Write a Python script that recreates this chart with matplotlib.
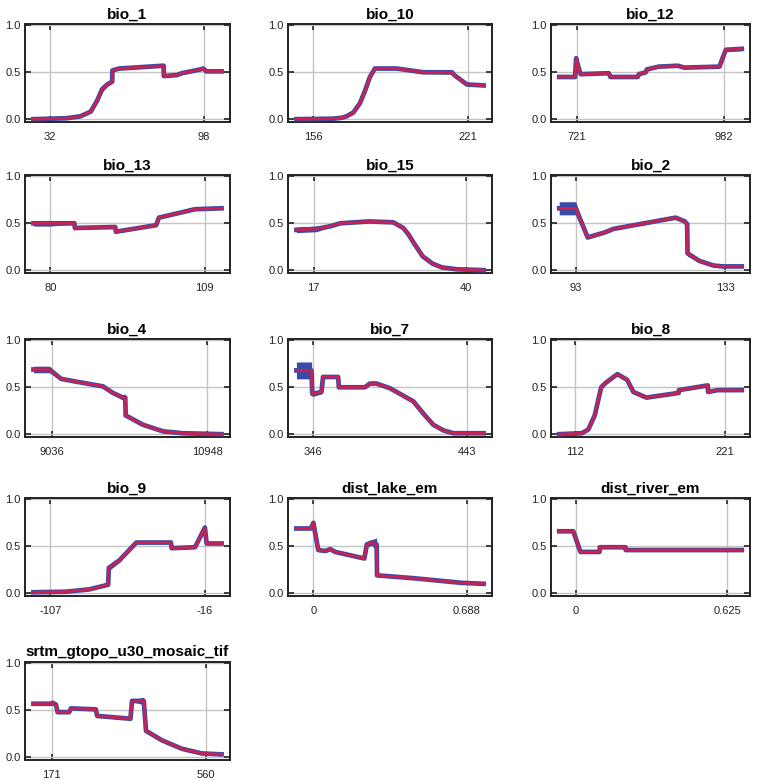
import numpy as np
import matplotlib
matplotlib.use("Agg")
import matplotlib.pyplot as plt

plt.rcParams['font.family'] = ['Liberation Sans', 'DejaVu Sans']

# response curves: x, mean response, +/- sd
bio_1_x = [25, 39, 45, 49.5, 52.3, 54.4, 56.6, 58.7, 58.8, 61.7, 80.7, 80.8, 86.4, 88.5, 96.3, 97.7, 99, 105.5]
bio_1_y = [0.0, 0.01, 0.03, 0.08, 0.2, 0.32, 0.37, 0.40, 0.52, 0.54, 0.57, 0.46, 0.47, 0.49, 0.53, 0.54, 0.51, 0.51]
bio_1_sd = [0.005, 0.005, 0.01, 0.01, 0.02, 0.03, 0.02, 0.01, 0.01, 0.01, 0.01, 0.01, 0.01, 0.01, 0.01, 0.02, 0.01, 0.01]

bio_10_x = [149, 164.4, 168, 170, 172.9, 175.7, 177.8, 179.9, 182, 191.2, 202.4, 214.4, 215.4, 220.7, 227.7]
bio_10_y = [0.0, 0.005, 0.015, 0.03, 0.07, 0.17, 0.30, 0.45, 0.54, 0.54, 0.50, 0.50, 0.47, 0.37, 0.36]
bio_10_sd = [0.005, 0.005, 0.005, 0.01, 0.01, 0.01, 0.01, 0.01, 0.01, 0.01, 0.01, 0.02, 0.02, 0.01, 0.01]

bio_12_x = [690, 718, 720, 721, 726.7, 728, 777.7, 780.6, 828.8, 831, 843, 845, 865.7, 899.7, 911, 973.5, 979, 984.8, 1013]
bio_12_y = [0.45, 0.45, 0.65, 0.62, 0.50, 0.48, 0.49, 0.45, 0.45, 0.48, 0.50, 0.53, 0.56, 0.57, 0.55, 0.56, 0.65, 0.74, 0.75]
bio_12_sd = [0.01, 0.01, 0.03, 0.03, 0.01, 0.01, 0.01, 0.01, 0.01, 0.01, 0.01, 0.01, 0.01, 0.01, 0.01, 0.01, 0.02, 0.02, 0.02]

bio_13_x = [76.8, 80, 84.5, 84.6, 92.2, 92.3, 99.9, 100.4, 107.2, 112.2]
bio_13_y = [0.50, 0.50, 0.50, 0.45, 0.46, 0.41, 0.48, 0.56, 0.65, 0.66]
bio_13_sd = [0.03, 0.03, 0.01, 0.01, 0.01, 0.01, 0.01, 0.01, 0.01, 0.01]

bio_15_x = [14.4, 17.4, 19.6, 21, 25.4, 29, 30.5, 31.3, 32, 33.4, 34.9, 36.3, 38.5, 42.6]
bio_15_y = [0.43, 0.44, 0.47, 0.50, 0.52, 0.51, 0.45, 0.38, 0.30, 0.15, 0.07, 0.03, 0.01, 0.0]
bio_15_sd = [0.03, 0.03, 0.01, 0.01, 0.01, 0.01, 0.01, 0.01, 0.01, 0.01, 0.01, 0.005, 0.005, 0.005]

bio_2_x = [88.6, 93, 96.2, 100.6, 103.1, 119.7, 122.2, 122.8, 122.9, 126, 129.8, 132.3, 137.4]
bio_2_y = [0.66, 0.66, 0.35, 0.40, 0.44, 0.56, 0.52, 0.49, 0.18, 0.10, 0.05, 0.04, 0.04]
bio_2_sd = [0.07, 0.07, 0.02, 0.01, 0.01, 0.01, 0.01, 0.02, 0.03, 0.01, 0.01, 0.005, 0.005]

bio_4_x = [8810, 9007, 9151, 9336, 9665, 9788, 9912, 9940, 9945, 10159, 10406, 10652, 11125]
bio_4_y = [0.69, 0.69, 0.59, 0.56, 0.51, 0.44, 0.39, 0.39, 0.20, 0.10, 0.03, 0.01, 0.0]
bio_4_sd = [0.035, 0.035, 0.01, 0.01, 0.01, 0.01, 0.03, 0.04, 0.01, 0.01, 0.005, 0.005, 0.005]

bio_7_x = [335.5, 345, 345.5, 351.3, 352.3, 361.8, 362.3, 378.7, 381.9, 386, 394.5, 409.3, 415.6, 421.9, 428.3, 434.6, 453.6]
bio_7_y = [0.68, 0.68, 0.43, 0.45, 0.61, 0.61, 0.50, 0.50, 0.54, 0.54, 0.49, 0.35, 0.22, 0.10, 0.04, 0.01, 0.01]
bio_7_sd = [0.09, 0.09, 0.03, 0.02, 0.01, 0.01, 0.01, 0.01, 0.01, 0.01, 0.01, 0.02, 0.01, 0.01, 0.005, 0.005, 0.005]

bio_8_x = [100.2, 116.7, 121.4, 126.1, 130.8, 134.3, 142.6, 149.7, 154.3, 163.8, 187.3, 187.5, 208.5, 208.7, 215.6, 233.3]
bio_8_y = [0.0, 0.01, 0.05, 0.20, 0.50, 0.55, 0.64, 0.58, 0.45, 0.39, 0.44, 0.47, 0.52, 0.45, 0.47, 0.47]
bio_8_sd = [0.005, 0.005, 0.01, 0.02, 0.02, 0.01, 0.01, 0.02, 0.01, 0.01, 0.01, 0.01, 0.01, 0.01, 0.01, 0.01]

bio_9_x = [-117, -98.5, -84.3, -73, -72.6, -66.4, -56.4, -36, -35.6, -21.8, -16, -15, -6.2]
bio_9_y = [0.01, 0.015, 0.04, 0.09, 0.27, 0.35, 0.54, 0.54, 0.48, 0.49, 0.70, 0.53, 0.53]
bio_9_sd = [0.005, 0.005, 0.01, 0.01, 0.03, 0.02, 0.01, 0.01, 0.01, 0.01, 0.03, 0.01, 0.01]

dist_lake_x = [-0.076, -0.011, 0.0, 0.022, 0.055, 0.076, 0.098, 0.229, 0.240, 0.262, 0.284, 0.286, 0.448, 0.666, 0.764]
dist_lake_y = [0.69, 0.69, 0.75, 0.46, 0.45, 0.47, 0.44, 0.37, 0.52, 0.54, 0.52, 0.19, 0.16, 0.11, 0.10]
dist_lake_sd = [0.01, 0.01, 0.02, 0.01, 0.01, 0.01, 0.01, 0.01, 0.03, 0.03, 0.07, 0.01, 0.01, 0.01, 0.01]

dist_river_x = [-0.068, -0.01, 0.0195, 0.098, 0.099, 0.205, 0.206, 0.684]
dist_river_y = [0.66, 0.66, 0.44, 0.44, 0.49, 0.49, 0.46, 0.46]
dist_river_sd = [0.01, 0.01, 0.01, 0.01, 0.01, 0.01, 0.005, 0.005]

srtm_x = [125, 169.3, 173.5, 181.9, 186, 215.3, 219.5, 282.3, 286, 370, 374, 403.5, 409.4, 449.5, 499.7, 549.9, 600]
srtm_y = [0.57, 0.57, 0.58, 0.56, 0.48, 0.48, 0.52, 0.51, 0.44, 0.41, 0.60, 0.60, 0.28, 0.18, 0.09, 0.04, 0.03]
srtm_sd = [0.01, 0.01, 0.01, 0.01, 0.01, 0.01, 0.01, 0.01, 0.01, 0.01, 0.01, 0.04, 0.01, 0.01, 0.01, 0.005, 0.005]

titles = ['bio_1', 'bio_10', 'bio_12', 'bio_13', 'bio_15', 'bio_2', 'bio_4', 'bio_7', 'bio_8',
          'bio_9', 'dist_lake_em', 'dist_river_em', 'srtm_gtopo_u30_mosaic_tif']
xticks = [[32, 98], [156, 221], [721, 982], [80, 109], [17, 40], [93, 133], [9036, 10948],
          [346, 443], [112, 221], [-107, -16], [0, 0.688], [0, 0.625], [171, 560]]
xticklabels = [['32', '98'], ['156', '221'], ['721', '982'], ['80', '109'], ['17', '40'], ['93', '133'],
               ['9036', '10948'], ['346', '443'], ['112', '221'], ['-107', '-16'], ['0', '0.688'],
               ['0', '0.625'], ['171', '560']]
curves = [(bio_1_x, bio_1_y, bio_1_sd), (bio_10_x, bio_10_y, bio_10_sd), (bio_12_x, bio_12_y, bio_12_sd),
          (bio_13_x, bio_13_y, bio_13_sd), (bio_15_x, bio_15_y, bio_15_sd), (bio_2_x, bio_2_y, bio_2_sd),
          (bio_4_x, bio_4_y, bio_4_sd), (bio_7_x, bio_7_y, bio_7_sd), (bio_8_x, bio_8_y, bio_8_sd),
          (bio_9_x, bio_9_y, bio_9_sd), (dist_lake_x, dist_lake_y, dist_lake_sd),
          (dist_river_x, dist_river_y, dist_river_sd), (srtm_x, srtm_y, srtm_sd)]

W, H = 760, 780
col_left = [25, 288, 551]
col_width = [205, 204, 199]
row_top = [24, 175, 339, 498, 662]
ax_h = 98

blue = '#3a4aa6'
red = '#cc2150'

fig = plt.figure(figsize=(W / 100, H / 100), dpi=100)

for i, title in enumerate(titles):
    r, c = divmod(i, 3)
    ax = fig.add_axes([col_left[c] / W, 1 - (row_top[r] + ax_h) / H, col_width[c] / W, ax_h / H])
    x, y, sd = [np.array(v, dtype=float) for v in curves[i]]
    # sd band, then mean line on top
    ax.fill_between(x, y - sd, y + sd, color=blue, lw=0, zorder=2)
    ax.plot(x, y, color=blue, lw=3.4, solid_joinstyle='round', zorder=3)
    ax.plot(x, y, color=red, lw=1.9, solid_joinstyle='round', zorder=4)

    span = x.max() - x.min()
    ax.set_xlim(x.min() - 0.045 * span, x.max() + 0.045 * span)
    ax.set_ylim(-0.03, 1.015)
    ax.set_yticks([0.0, 0.5, 1.0])
    ax.set_yticklabels(['0.0', '0.5', '1.0'])
    ax.set_xticks(xticks[i])
    ax.set_xticklabels(xticklabels[i])
    ax.grid(True, color='#c4c4c4', lw=1)
    ax.set_axisbelow(True)
    ax.tick_params(direction='in', length=4, width=1.2, top=True, right=True,
                   labelsize=8, colors='#222222')
    ax.tick_params(axis='x', pad=7)
    ax.tick_params(axis='y', pad=3)
    for s in ax.spines.values():
        s.set_linewidth(1.4)
        s.set_color('#222222')
    ax.set_title(title, fontsize=11, fontweight='bold', pad=4)

fig.savefig('out.png', dpi=100)
